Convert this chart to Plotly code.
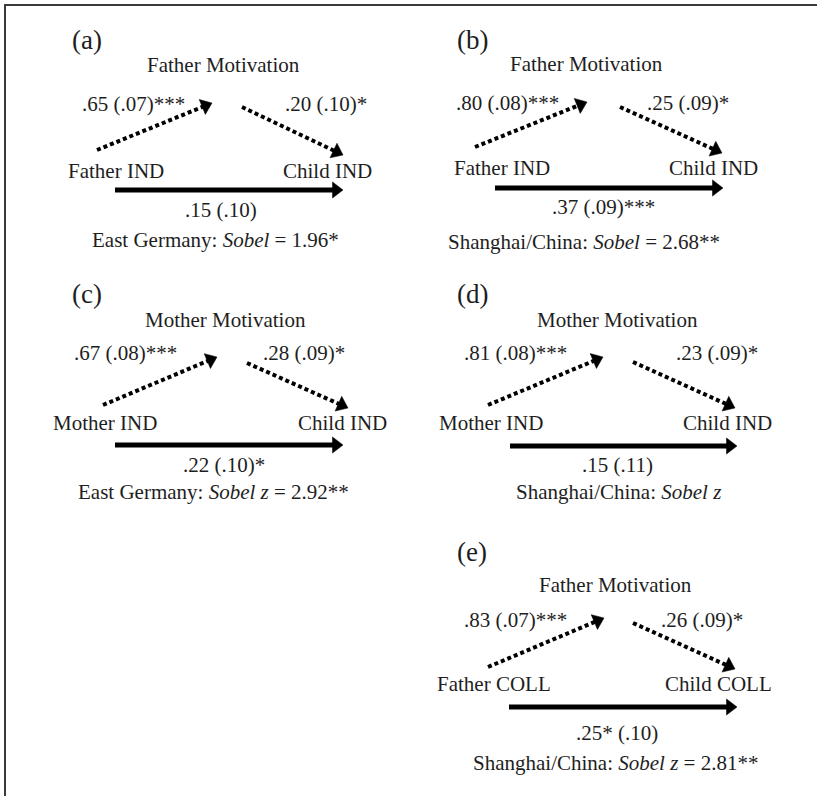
import math
import plotly.graph_objects as go

# ---- model content -------------------------------------------------------
panel_tags = ["(a)", "(b)", "(c)", "(d)", "(e)"]
mediators = ["Father Motivation", "Father Motivation", "Mother Motivation",
             "Mother Motivation", "Father Motivation"]
predictors = ["Father IND", "Father IND", "Mother IND", "Mother IND", "Father COLL"]
outcomes = ["Child IND", "Child IND", "Child IND", "Child IND", "Child COLL"]
path_a = [".65 (.07)***", ".80 (.08)***", ".67 (.08)***", ".81 (.08)***", ".83 (.07)***"]
path_b = [".20 (.10)*", ".25 (.09)*", ".28 (.09)*", ".23 (.09)*", ".26 (.09)*"]
path_c = [".15 (.10)", ".37 (.09)***", ".22 (.10)*", ".15 (.11)", ".25* (.10)"]
samples = ["East Germany", "Shanghai/China", "East Germany", "Shanghai/China", "Shanghai/China"]
sobel_stat = ["Sobel", "Sobel", "Sobel z", "Sobel z", "Sobel z"]
sobel_value = ["1.96*", "2.68**", "2.92**", "", "2.81**"]

# ---- diagram geometry (pixel space, y grows downward) -------------------
layout_geo = [
    dict(tag=(87, 40), med=(223, 65), a=(133, 104), b=(326, 104),
         la=((97, 150), (212, 103)), lb=((242, 107), (343, 155)),
         x=(116, 171), y=(327, 171), lc=((115, 190), (343, 190)),
         c=(221, 210), s=(215, 240)),
    dict(tag=(472, 40), med=(586, 64), a=(507, 103), b=(688, 103),
         la=((475, 147), (587, 102)), lb=((620, 107), (722, 153)),
         x=(502, 168), y=(713, 168), lc=((495, 188), (723, 188)),
         c=(603, 207), s=(584, 242)),
    dict(tag=(87, 294), med=(225, 320), a=(125, 353), b=(304, 353),
         la=((103, 405), (217, 357)), lb=((247, 363), (348, 408)),
         x=(105, 423), y=(342, 423), lc=((115, 445), (343, 445)),
         c=(224, 465), s=(213, 492)),
    dict(tag=(472, 294), med=(617, 320), a=(515, 353), b=(717, 353),
         la=((488, 405), (603, 357)), lb=((633, 362), (735, 408)),
         x=(491, 423), y=(727, 423), lc=((510, 446), (737, 446)),
         c=(617, 465), s=(618, 492)),
    dict(tag=(472, 552), med=(615, 585), a=(515, 620), b=(702, 620),
         la=((488, 667), (604, 618)), lb=((633, 623), (735, 669)),
         x=(494, 684), y=(718, 684), lc=((509, 707), (737, 707)),
         c=(617, 733), s=(615, 763)),
]

W, H = 817, 796
INK = "#000000"
TXT = "#1e1e1e"
FONT = "Liberation Serif, Times New Roman, serif"

fig = go.Figure()


def add_arrow(p0, p1, dotted, width, head):
    dx, dy = p1[0] - p0[0], p1[1] - p0[1]
    length = math.hypot(dx, dy)
    ux, uy = dx / length, dy / length
    r = head / 2.0
    # place the triangle centre so its point lands on p1
    cx, cy = p1[0] - ux * r, p1[1] - uy * r
    fig.add_trace(go.Scatter(
        x=[p0[0], cx], y=[p0[1], cy], mode="lines",
        line=dict(color=INK, width=width, dash="4px,3px" if dotted else "solid"),
        hoverinfo="skip"))
    fig.add_trace(go.Scatter(
        x=[p0[0], cx], y=[p0[1], cy], mode="markers",
        marker=dict(symbol="triangle-up", size=[0, head], angleref="previous",
                    color=INK, opacity=1, line=dict(width=0.5, color=INK)),
        hoverinfo="skip"))


def add_text(pos, text, size=21):
    fig.add_annotation(x=pos[0], y=pos[1], text=text, showarrow=False,
                       xanchor="center", yanchor="middle",
                       font=dict(family=FONT, size=size, color=TXT))


for i, g in enumerate(layout_geo):
    add_arrow(*g["la"], dotted=True, width=4, head=14)
    add_arrow(*g["lb"], dotted=True, width=4, head=14)
    add_arrow(*g["lc"], dotted=False, width=5, head=14)

    add_text(g["tag"], panel_tags[i], size=27)
    add_text(g["med"], mediators[i])
    add_text(g["a"], path_a[i])
    add_text(g["b"], path_b[i])
    add_text(g["x"], predictors[i])
    add_text(g["y"], outcomes[i])
    add_text(g["c"], path_c[i])
    sob = f"{samples[i]}: <i>{sobel_stat[i]}</i>"
    if sobel_value[i]:
        sob += f" = {sobel_value[i]}"
    add_text(g["s"], sob)

# frame lines along the top and left edges
fig.add_shape(type="line", x0=4, y0=5, x1=W, y1=5, line=dict(color="#3a3a3a", width=2))
fig.add_shape(type="line", x0=5, y0=4, x1=5, y1=H, line=dict(color="#3a3a3a", width=2))

fig.update_layout(
    width=W, height=H,
    margin=dict(l=0, r=0, t=0, b=0),
    paper_bgcolor="white", plot_bgcolor="white",
    showlegend=False,
    xaxis=dict(range=[0, W], visible=False, fixedrange=True),
    yaxis=dict(range=[H, 0], visible=False, fixedrange=True),
)

fig.write_html("out.html")
